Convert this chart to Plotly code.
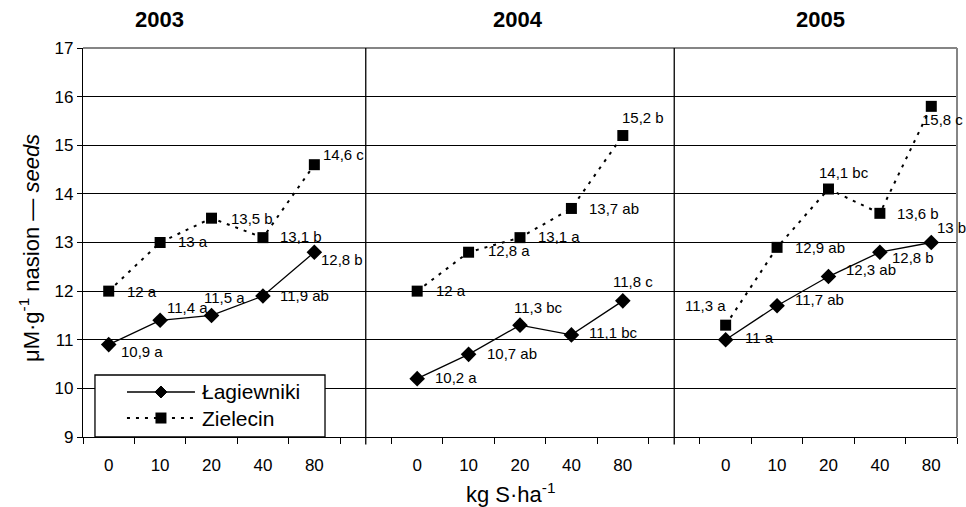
import plotly.graph_objects as go

# ---------------- data ----------------
years = ["2003", "2004", "2005"]
doses = ["0", "10", "20", "40", "80"]

lag_2003 = [10.9, 11.4, 11.5, 11.9, 12.8]
lag_2004 = [10.2, 10.7, 11.3, 11.1, 11.8]
lag_2005 = [11.0, 11.7, 12.3, 12.8, 13.0]
lag_letters_2003 = ["a", "a", "a", "ab", "b"]
lag_letters_2004 = ["a", "ab", "bc", "bc", "c"]
lag_letters_2005 = ["a", "ab", "ab", "b", "b"]

ziel_2003 = [12.0, 13.0, 13.5, 13.1, 14.6]
ziel_2004 = [12.0, 12.8, 13.1, 13.7, 15.2]
ziel_2005 = [11.3, 12.9, 14.1, 13.6, 15.8]
ziel_letters_2003 = ["a", "a", "b", "b", "c"]
ziel_letters_2004 = ["a", "a", "a", "ab", "b"]
ziel_letters_2005 = ["a", "ab", "bc", "b", "c"]

series_names = ["Łagiewniki", "Zielecin"]
y_ticks = [9, 10, 11, 12, 13, 14, 15, 16, 17]

# ---------------- label placement (style, px: anchor, dx, dy-down) ----------------
lag_label_pos = [
    [("left", 10, 7), ("left", 5, -13), ("center", 13, -18), ("left", 15, 0), ("left", 5, 7)],
    [("left", 16, -1), ("left", 16, -1), ("center", 18, -18), ("left", 16, -2), ("center", 10, -19)],
    [("left", 17, -2), ("left", 16, -6), ("left", 16, -7), ("left", 10, 5), ("left", 4, -15)],
]
ziel_label_pos = [
    [("left", 16, 0), ("left", 16, -1), ("left", 17, 0), ("left", 15, -1), ("left", 7, -10)],
    [("left", 17, -1), ("left", 17, -2), ("left", 16, -1), ("left", 16, 0), ("center", 20, -18)],
    [("center", -20, -20), ("left", 16, 0), ("center", 16, -17), ("left", 15, 0), ("center", 11, 13)],
]

FONT = "Arial, 'Liberation Sans', sans-serif"
DOT = "3px,6px"
lag_all = [lag_2003, lag_2004, lag_2005]
ziel_all = [ziel_2003, ziel_2004, ziel_2005]
lag_let = [lag_letters_2003, lag_letters_2004, lag_letters_2005]
ziel_let = [ziel_letters_2003, ziel_letters_2004, ziel_letters_2005]

SLOTS = len(doses) + 1  # one empty slot between year panels


def build_xy(series):
    xs, ys = [], []
    for yi, vals in enumerate(series):
        for di, v in enumerate(vals):
            xs.append(yi * SLOTS + di)
            ys.append(v)
        xs.append(None)
        ys.append(None)
    return xs, ys


def fmt(v):
    return str(int(v)) if float(v).is_integer() else str(v).replace(".", ",")


fig = go.Figure()

lx, ly = build_xy(lag_all)
zx, zy = build_xy(ziel_all)

fig.add_trace(go.Scatter(
    x=lx, y=ly, name=series_names[0], mode="lines+markers",
    line=dict(color="black", width=1.3),
    marker=dict(symbol="diamond", size=12, color="black"),
    connectgaps=False, showlegend=False,
))
fig.add_trace(go.Scatter(
    x=zx, y=zy, name=series_names[1], mode="lines+markers",
    line=dict(color="black", width=2, dash=DOT),
    marker=dict(symbol="square", size=11, color="black"),
    connectgaps=False, showlegend=False,
))

annotations = []
for series, letters, positions in [(lag_all, lag_let, lag_label_pos), (ziel_all, ziel_let, ziel_label_pos)]:
    for yi, vals in enumerate(series):
        for di, v in enumerate(vals):
            anchor, dx, dy = positions[yi][di]
            annotations.append(dict(
                x=yi * SLOTS + di, y=v, xref="x", yref="y",
                text=f"{fmt(v)} {letters[yi][di]}", showarrow=False,
                xanchor=anchor, yanchor="middle", xshift=dx, yshift=-dy,
                font=dict(family=FONT, size=15, color="black"),
            ))

# year titles
year_x = [0.087, 0.498, 0.844]
for yx, yr in zip(year_x, years):
    annotations.append(dict(
        x=yx, y=1.072, xref="paper", yref="paper", text=f"<b>{yr}</b>",
        showarrow=False, xanchor="center", yanchor="middle",
        font=dict(family=FONT, size=22, color="black"),
    ))

# axis titles
annotations.append(dict(
    x=0.49, y=-0.144, xref="paper", yref="paper", text="kg S·ha<sup>-1</sup>",
    showarrow=False, xanchor="center", yanchor="middle",
    font=dict(family=FONT, size=22, color="black"),
))
annotations.append(dict(
    x=-0.061, y=0.485, xref="paper", yref="paper",
    text="μM·g<sup>-1</sup> nasion — <i>seeds</i>", textangle=-90,
    showarrow=False, xanchor="center", yanchor="middle",
    font=dict(family=FONT, size=22, color="black"),
))

tickvals, ticktext = [], []
for yi in range(len(years)):
    for di, d in enumerate(doses):
        tickvals.append(yi * SLOTS + di)
        ticktext.append(d)

shapes = [
    # top and right plot border (gray)
    dict(type="line", xref="paper", yref="paper", x0=0, x1=1, y0=1, y1=1,
         line=dict(color="#858585", width=2)),
    dict(type="line", xref="paper", yref="paper", x0=1, x1=1, y0=0, y1=1,
         line=dict(color="#858585", width=2)),
]
for yi in range(1, len(years)):
    shapes.append(dict(type="line", xref="x", yref="paper",
                       x0=yi * SLOTS - 1, x1=yi * SLOTS - 1, y0=-0.019, y1=1,
                       line=dict(color="black", width=1.3)))

# ---------------- custom legend box (Excel style) ----------------
LEG_X0, LEG_X1, LEG_Y0, LEG_Y1 = 0.0137, 0.2769, 0.0, 0.1594
SAMPLE_X0, SAMPLE_X1, SAMPLE_XM = 0.0503, 0.1281, 0.0892
ROW_Y = [0.1157, 0.0488]
TEXT_X = 0.1339
shapes.append(dict(type="rect", xref="paper", yref="paper", x0=LEG_X0, x1=LEG_X1,
                   y0=LEG_Y0, y1=LEG_Y1, fillcolor="white",
                   line=dict(color="black", width=1.3), layer="above"))
shapes.append(dict(type="line", xref="paper", yref="paper", x0=SAMPLE_X0, x1=SAMPLE_X1,
                   y0=ROW_Y[0], y1=ROW_Y[0], line=dict(color="black", width=1.3), layer="above"))
shapes.append(dict(type="path", xref="paper", yref="paper", xsizemode="pixel", ysizemode="pixel",
                   xanchor=SAMPLE_XM, yanchor=ROW_Y[0], path="M-6,0 L0,6 L6,0 L0,-6 Z",
                   fillcolor="black", line=dict(color="black", width=1), layer="above"))
shapes.append(dict(type="line", xref="paper", yref="paper", x0=SAMPLE_X0, x1=SAMPLE_X1,
                   y0=ROW_Y[1], y1=ROW_Y[1], line=dict(color="black", width=2, dash=DOT), layer="above"))
shapes.append(dict(type="rect", xref="paper", yref="paper", xsizemode="pixel", ysizemode="pixel",
                   xanchor=SAMPLE_XM, yanchor=ROW_Y[1], x0=-5.5, x1=5.5, y0=-5.5, y1=5.5,
                   fillcolor="black", line=dict(color="black", width=0), layer="above"))
for name, ry in zip(series_names, ROW_Y):
    annotations.append(dict(
        x=TEXT_X, y=ry, xref="paper", yref="paper", text=name, showarrow=False,
        xanchor="left", yanchor="middle",
        font=dict(family=FONT, size=21, color="black"),
    ))

fig.update_layout(
    width=966, height=507,
    margin=dict(l=83, r=9, t=48, b=70),
    paper_bgcolor="white", plot_bgcolor="white",
    font=dict(family=FONT, color="black"),
    showlegend=False,
    annotations=annotations,
    shapes=shapes,
    xaxis=dict(
        range=[-0.5, len(years) * SLOTS - 1.5],
        tickmode="array", tickvals=tickvals, ticktext=ticktext,
        ticks="", showgrid=False, zeroline=False,
        showline=True, linecolor="black", linewidth=1.3,
        tickfont=dict(family=FONT, size=17, color="black"),
        ticklabelstandoff=12,
        minor=dict(ticks="outside", ticklen=6, tickcolor="black", tickwidth=1.3,
                   tick0=-0.5, dtick=1, showgrid=False),
    ),
    yaxis=dict(
        range=[9, 17], tickmode="array", tickvals=y_ticks,
        ticks="outside", ticklen=5, tickcolor="black", tickwidth=1.3,
        showgrid=True, gridcolor="black", gridwidth=1.2, zeroline=False,
        showline=True, linecolor="black", linewidth=1.3,
        tickfont=dict(family=FONT, size=17, color="black"),
    ),
)

fig.write_html(
    "out.html",
    config={"displayModeBar": False},
    post_script="document.body.style.margin='0';document.body.style.overflow='hidden';",
)
